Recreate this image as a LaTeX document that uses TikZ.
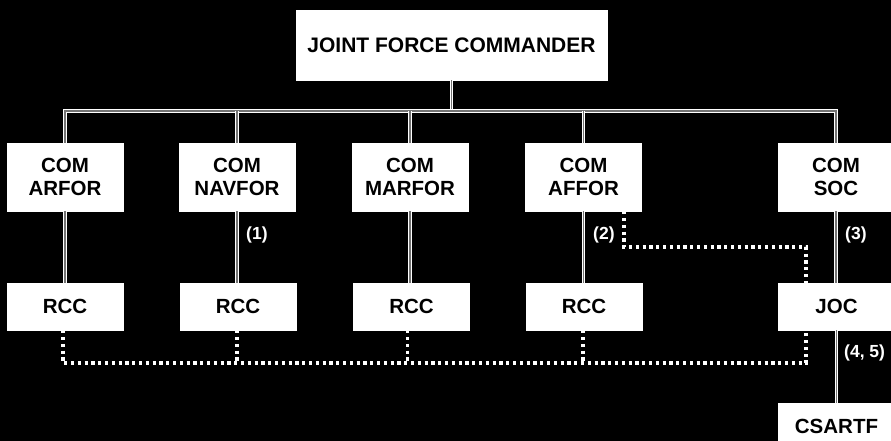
\documentclass[tikz,border=0pt]{standalone}
\usepackage{fontspec}
\setmainfont{Liberation Sans}
\begin{document}
\begin{tikzpicture}[x=1pt,y=-1pt,
  box/.style={fill=white, draw=white, inner sep=0pt, text=black, align=center,
    font=\fontsize{20.5}{23}\selectfont\bfseries},
  combox/.style={box, minimum width=116pt, minimum height=68pt},
  lowbox/.style={box, minimum width=116pt, minimum height=47pt},
  link/.style={draw=white, double=black!55, line width=1.1pt, double distance=1.3pt},
  dotlink/.style={draw=white, line width=3.2pt, dash pattern=on 3.2pt off 3.6pt},
  lbl/.style={text=white, anchor=west, inner sep=0pt,
    font=\fontsize{17.5}{19}\selectfont\bfseries}]
\fill[black] (0,0) rectangle (891,441);
\useasboundingbox (0,0) rectangle (891,441);

\node[box, minimum width=311pt, minimum height=70pt,
  font=\fontsize{21}{24}\selectfont\bfseries] (jfc) at (451.5,45) {JOINT FORCE COMMANDER};

\node[combox] (arfor)  at (65,177)    {COM\\ARFOR};
\node[combox] (navfor) at (237,177)   {COM\\NAVFOR};
\node[combox] (marfor) at (410,177)   {COM\\MARFOR};
\node[combox] (affor)  at (583.5,177) {COM\\AFFOR};
\node[combox] (soc)    at (836,177)   {COM\\SOC};

\node[lowbox] (rcc1) at (65,306.5)    {RCC};
\node[lowbox] (rcc2) at (238,306.5)   {RCC};
\node[lowbox] (rcc3) at (411.5,306.5) {RCC};
\node[lowbox] (rcc4) at (584,306.5)   {RCC};
\node[lowbox] (joc)  at (836.5,306.5) {JOC};
\node[lowbox] (csartf) at (836.5,426.5) {CSARTF};

% solid tree
\coordinate (bus) at (451.5,111);
\draw[link] (jfc.south) -- (jfc.south |- bus);
\draw[link] (arfor.north) |- (soc.north |- bus) -- (soc.north);
\draw[link] (navfor.north) -- (navfor.north |- bus);
\draw[link] (marfor.north) -- (marfor.north |- bus);
\draw[link] (affor.north) -- (affor.north |- bus);

\draw[link] (arfor.south) -- (arfor.south |- rcc1.north);
\draw[link] (navfor.south) -- (navfor.south |- rcc2.north);
\draw[link] (marfor.south) -- (marfor.south |- rcc3.north);
\draw[link] (affor.south) -- (affor.south |- rcc4.north);
\draw[link] (soc.south) -- (soc.south |- joc.north);
\draw[link] (joc.south) -- (csartf.north);

% dotted links
\coordinate (dotbus) at (0,363);
\coordinate (dotmid) at (0,247);
\coordinate (jdb) at ([xshift=-30.5pt]joc.south);
\coordinate (jdt) at ([xshift=-30.5pt]joc.north);
\coordinate (adot) at ([xshift=40.5pt]affor.south);
\draw[dotlink] ([xshift=-2pt]rcc1.south) |- (dotbus -| jdb) -- (jdb);
\draw[dotlink] ([xshift=-1pt]rcc2.south) -- ([xshift=-1pt]rcc2.south |- dotbus);
\draw[dotlink] ([xshift=-4pt]rcc3.south) -- ([xshift=-4pt]rcc3.south |- dotbus);
\draw[dotlink] ([xshift=-1pt]rcc4.south) -- ([xshift=-1pt]rcc4.south |- dotbus);
\draw[dotlink] (adot) |- (dotmid -| jdt) -- (jdt);

% labels
\node[lbl] (l1) at (246,235) {(1)};
\node[lbl] (l2) at (593,235) {(2)};
\node[lbl] (l3) at (845,235) {(3)};
\node[lbl] (l45) at (844,353) {(4, 5)};
\end{tikzpicture}
\end{document}
